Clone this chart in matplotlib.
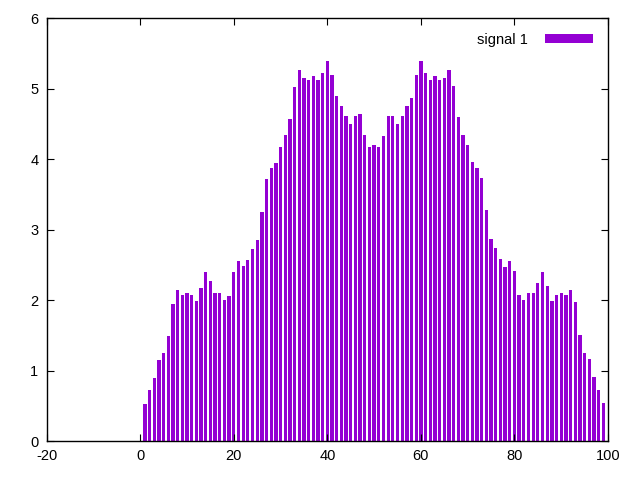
import matplotlib
matplotlib.use("Agg")
import matplotlib.pyplot as plt
import numpy as np

xs = np.arange(1, 100)
heights = [0.52, 0.72, 0.89, 1.15, 1.25, 1.49, 1.94, 2.14, 2.07, 2.10,
           2.07, 1.99, 2.17, 2.40, 2.27, 2.10, 2.10, 2.00, 2.06, 2.40,
           2.55, 2.48, 2.57, 2.72, 2.85, 3.25, 3.72, 3.88, 3.95, 4.18,
           4.35, 4.57, 5.02, 5.26, 5.15, 5.13, 5.18, 5.12, 5.22, 5.40,
           5.20, 4.90, 4.75, 4.62, 4.50, 4.62, 4.64, 4.34, 4.17, 4.20,
           4.17, 4.33, 4.62, 4.62, 4.50, 4.61, 4.75, 4.87, 5.19, 5.40,
           5.23, 5.12, 5.18, 5.13, 5.15, 5.26, 5.04, 4.60, 4.35, 4.20,
           3.96, 3.87, 3.74, 3.28, 2.87, 2.74, 2.58, 2.47, 2.55, 2.41,
           2.07, 2.00, 2.10, 2.10, 2.24, 2.40, 2.20, 1.99, 2.07, 2.10,
           2.07, 2.14, 1.97, 1.50, 1.25, 1.16, 0.91, 0.72, 0.54]

plt.rcParams['font.family'] = ['Liberation Sans', 'DejaVu Sans']
plt.rcParams['axes.unicode_minus'] = False
fig, ax = plt.subplots(figsize=(6.4, 4.8), dpi=100)
fig.subplots_adjust(left=0.073, right=0.95, bottom=0.081, top=0.962)

ax.bar(xs, heights, width=0.7, color='#9400d3', label='signal 1')
ax.set_xlim(-20, 100)
ax.set_ylim(0, 6)
ax.set_xticks(range(-20, 101, 20))
ax.set_yticks(range(0, 7))
ax.tick_params(direction='in', top=True, right=True, labelsize=10.5, length=5)
ax.tick_params(axis='x', pad=6)
ax.tick_params(axis='y', pad=6)
for s in ax.spines.values():
    s.set_linewidth(1.0)

leg = ax.legend(loc='upper right', frameon=False, handlelength=3.3,
                handleheight=0.6, handletextpad=1.2, markerfirst=False,
                fontsize=10.5, borderaxespad=0.6)

fig.savefig('out.png')
